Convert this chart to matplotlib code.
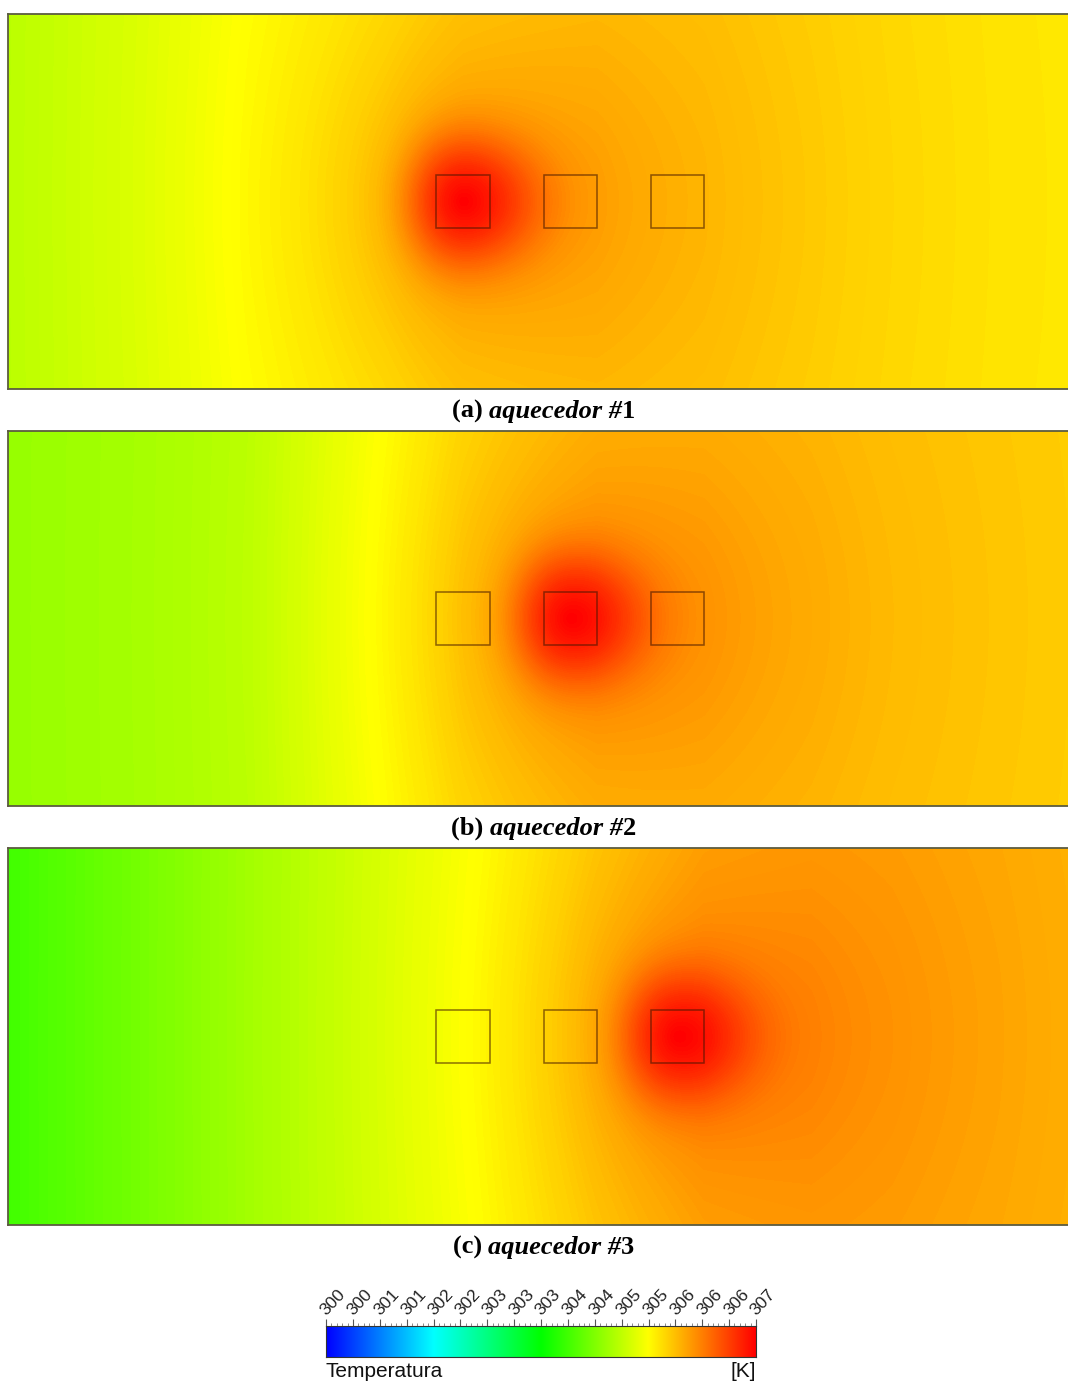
import numpy as np
import matplotlib
matplotlib.use("Agg")
import matplotlib.pyplot as plt
import matplotlib.transforms as mtransforms
from matplotlib.colors import LinearSegmentedColormap
from matplotlib.patches import Rectangle
from matplotlib.ticker import FixedLocator

# ---------------- data ----------------
T_MIN, T_MAX = 300.0, 307.0
TICK_VALUES = list(np.linspace(300.0, 307.0, 17))
TICK_LABELS = ['300', '300', '301', '301', '302', '302', '303', '303', '303',
               '304', '304', '305', '305', '306', '306', '306', '307']

DOMAIN_L, DOMAIN_H = 20.0, 7.0
HEATER_LEFT = [8.0, 10.0, 12.0]
HEATER_BOTTOM = 3.0
HEATER_SIDE = 1.0

# background temperature along the channel (read at the top wall)
BASE_X = [0.0, 2.5, 4.5, 7.0, 8.5, 11.0, 13.0, 15.0, 16.5, 18.5, 20.0]
BASE_T_A = [304.76, 304.98, 305.20, 305.36, 305.50, 305.60, 305.60, 305.54, 305.48, 305.42, 305.40]
BASE_T_B = [304.53, 304.62, 304.75, 305.18, 305.42, 305.65, 305.70, 305.68, 305.64, 305.60, 305.57]
BASE_T_C = [303.94, 304.30, 304.60, 304.95, 305.15, 305.52, 305.76, 305.84, 305.84, 305.80, 305.75]

ACTIVE_HEATER = [0, 1, 2]
HEATER_T = [307.0, 307.0, 307.0]
CORE_WEIGHT = 0.5
CORE_R = 1.25
CORE_POW = 2.5
TAIL_R = 2.5
STRETCH_DOWN = 1.15
STRETCH_UP = 0.8

CAPTION_LETTERS = ['(a)', '(b)', '(c)']
CAPTION_WORD = 'aquecedor'
CAPTION_NUMS = ['1', '2', '3']
CBAR_TITLE = 'Temperatura'
CBAR_UNIT = '[K]'

# ---------------- figure ----------------
W, H = 1068, 1385
fig = plt.figure(figsize=(W / 100, H / 100), dpi=100)


def rect(l, t, r, b):
    return [l / W, 1 - b / H, (r - l) / W, (b - t) / H]


cmap = LinearSegmentedColormap.from_list(
    'ansys', [(0.0, (0.0, 0.0, 1.0)), (0.25, (0.0, 1.0, 1.0)), (0.5, (0.0, 1.0, 0.0)),
              (0.75, (1.0, 1.0, 0.0)), (1.0, (1.0, 0.0, 0.0))], N=512)

panels = [(8, 14, 1079, 389), (8, 431, 1079, 806), (8, 848, 1079, 1225)]
caption_y = [411, 828, 1247]
bases = [BASE_T_A, BASE_T_B, BASE_T_C]

xg = np.linspace(0, DOMAIN_L, 1000)
yg = np.linspace(0, DOMAIN_H, 400)
X, Y = np.meshgrid(xg, yg)

spine_color = '#5c5c40'
for i, (l, t, r, b) in enumerate(panels):
    ax = fig.add_axes(rect(l, t, r, b))
    base = np.interp(X, BASE_X, bases[i])
    hc = HEATER_LEFT[ACTIVE_HEATER[i]] + HEATER_SIDE / 2
    vc = HEATER_BOTTOM + HEATER_SIDE / 2
    base_h = np.interp(hc, BASE_X, bases[i])
    w = 1.0 / (1.0 + np.exp(-(X - hc) / 0.6))
    stretch = STRETCH_UP + (STRETCH_DOWN - STRETCH_UP) * w
    rr = np.hypot((X - hc) / stretch, Y - vc)
    f = (CORE_WEIGHT * np.exp(-(rr / CORE_R) ** CORE_POW)
         + (1 - CORE_WEIGHT) * np.exp(-rr / TAIL_R))
    T = np.clip(base + (HEATER_T[i] - base_h) * f, T_MIN, T_MAX)
    ax.contourf(X, Y, T, levels=np.linspace(T_MIN, T_MAX, 281), cmap=cmap,
                vmin=T_MIN, vmax=T_MAX)
    for hx in HEATER_LEFT:
        ax.add_patch(Rectangle((hx, HEATER_BOTTOM), HEATER_SIDE, HEATER_SIDE, fill=False,
                               edgecolor=(0.25, 0.08, 0.0), alpha=0.6, lw=1.1))
    ax.set_xlim(0, DOMAIN_L)
    ax.set_ylim(0, DOMAIN_H)
    ax.set_xticks([])
    ax.set_yticks([])
    for s in ax.spines.values():
        s.set_color(spine_color)
        s.set_linewidth(1.3)

# ---------------- captions ----------------
renderer = fig.canvas.get_renderer()
serif = ['Liberation Serif', 'DejaVu Serif']
cx_center = (8 + 1079) / 2
for i in range(3):
    pieces = [(CAPTION_LETTERS[i] + ' ', 'normal'), (CAPTION_WORD + ' #', 'italic'),
              (CAPTION_NUMS[i], 'normal')]
    texts = []
    for s, st in pieces:
        tt = fig.text(0, 0, s, family=serif, weight='bold', style=st, fontsize=19,
                      ha='left', va='baseline')
        texts.append(tt)
    widths = [tt.get_window_extent(renderer).width for tt in texts]
    total = sum(widths)
    x0 = cx_center - total / 2
    ybase = caption_y[i] + 7
    for tt, wdt in zip(texts, widths):
        tt.set_position((x0 / W, 1 - ybase / H))
        x0 += wdt

# ---------------- colorbar ----------------
cax = fig.add_axes(rect(326, 1326, 756, 1357))
grad = np.linspace(T_MIN, T_MAX, 512).reshape(1, -1)
cax.imshow(grad, aspect='auto', cmap=cmap, extent=[T_MIN, T_MAX, 0, 1],
           vmin=T_MIN, vmax=T_MAX)
cax.set_xlim(T_MIN, T_MAX)
cax.set_yticks([])
cax.xaxis.set_ticks_position('top')
cax.xaxis.set_major_locator(FixedLocator(TICK_VALUES))
minor = np.linspace(T_MIN, T_MAX, 16 * 5 + 1)
cax.xaxis.set_minor_locator(FixedLocator(minor))
cax.tick_params(axis='x', which='major', direction='out', length=5, width=0.8,
                color='#555555', labelsize=12.5, pad=1, labelcolor='#222222')
cax.tick_params(axis='x', which='minor', direction='out', length=2.5, width=0.6,
                color='#777777')
cax.set_xticklabels(TICK_LABELS, rotation=47, ha='left', va='bottom',
                    rotation_mode='anchor', family=['Liberation Sans', 'DejaVu Sans'])
offset = mtransforms.ScaledTranslation(3 / 100, 0, fig.dpi_scale_trans)
for lab in cax.get_xticklabels():
    lab.set_transform(lab.get_transform() + offset)
for s in cax.spines.values():
    s.set_color('#333333')
    s.set_linewidth(0.8)

fig.text(326 / W, 1 - 1377 / H, CBAR_TITLE, family=['Liberation Sans', 'DejaVu Sans'],
         fontsize=15, ha='left', va='baseline', color='#111111')
fig.text(756 / W, 1 - 1377 / H, CBAR_UNIT, family=['Liberation Sans', 'DejaVu Sans'],
         fontsize=15, ha='right', va='baseline', color='#111111')

fig.savefig('out.png', dpi=100)
